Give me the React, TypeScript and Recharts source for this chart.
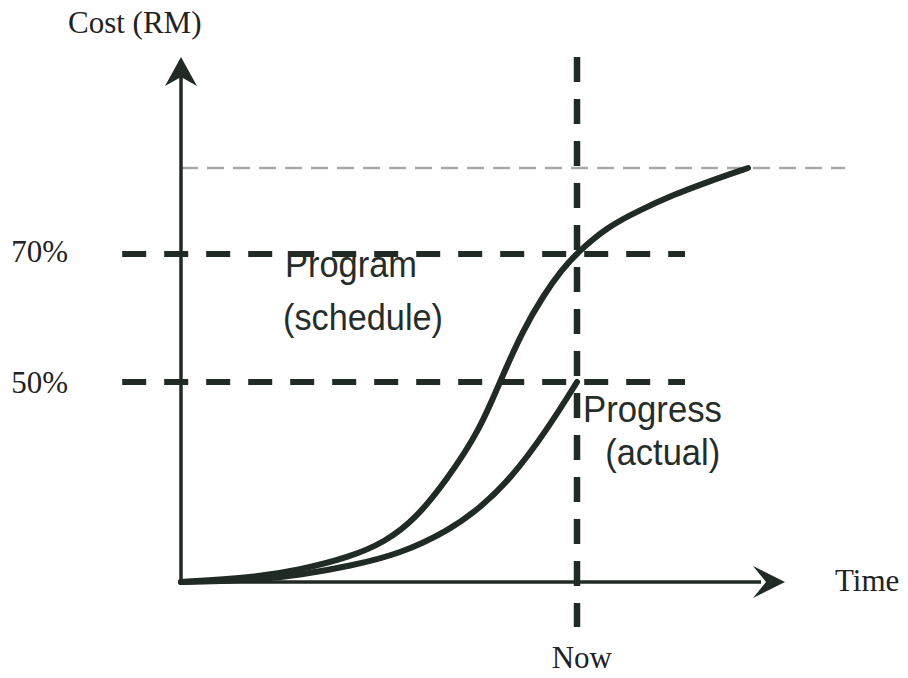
import React from 'react';
import { LineChart, Line, XAxis, YAxis, ReferenceLine, ReferenceDot } from 'recharts';

// S-curves (time units, cost units)
const programTime = [0, 11.5, 19.8, 28.2, 34, 39, 44.3, 49.8, 53.2, 57, 60.5, 63.5, 66, 71, 76.5, 82, 87.7, 94.5];
const programCost = [0, 0.8, 2.4, 5, 8, 12.5, 20.4, 30.4, 40.2, 50.4, 57.5, 62.5, 65.8, 71, 74.4, 77.4, 80, 82.8];
const progressTime = [0, 13.2, 19.8, 28.2, 36.5, 44.8, 49.8, 54.8, 61, 66];
const progressCost = [0, 0.4, 1.4, 3.2, 5.6, 10.4, 14.8, 20.4, 30.4, 40];

// reference levels
const yTickValues = [65.6, 40];
const yTickLabels = ['70%', '50%'];
const budgetLevel = 82.8;
const nowTime = 66;
const xTickLabel = 'Now';
const levelLineStart = -9.8;
const levelLineEnd = 84;
const budgetLineEnd = 110.7;
const yAxisTop = 105;
const xAxisEnd = 100.67;

const INK = '#1f2b24';
const SERIF = '"Liberation Serif", "Times New Roman", serif';
const SANS = '"Liberation Sans", Arial, sans-serif';

const programData = programTime.map((t, i) => ({ t, v: programCost[i] }));
const progressData = progressTime.map((t, i) => ({ t, v: progressCost[i] }));

type Ann = { text: string; t: number; v: number; font: string; size: number; anchor: string; len?: number };
const annotations: Ann[] = [
  { text: 'Cost (RM)', t: -18.83, v: 109.8, font: SERIF, size: 31, anchor: 'start' },
  { text: 'Program', t: 17.33, v: 61, font: SANS, size: 37, anchor: 'start', len: 132 },
  { text: '(schedule)', t: 17, v: 50.4, font: SANS, size: 37, anchor: 'start', len: 160 },
  { text: 'Progress', t: 67, v: 32, font: SANS, size: 37, anchor: 'start', len: 139 },
  { text: '(actual)', t: 70.7, v: 23.4, font: SANS, size: 37, anchor: 'start', len: 115 },
  { text: 'Time', t: 109, v: -1.8, font: SERIF, size: 31, anchor: 'start' },
  { text: xTickLabel, t: nowTime + 0.8, v: -17.2, font: SERIF, size: 31, anchor: 'middle' },
  { text: yTickLabels[0], t: -18.83, v: yTickValues[0] - 1.6, font: SERIF, size: 31, anchor: 'end' },
  { text: yTickLabels[1], t: -18.83, v: yTickValues[1] - 2.2, font: SERIF, size: 31, anchor: 'end' },
];

const TextShape = (a: Ann) => (p: any) => (
  <text
    x={p.cx}
    y={p.cy}
    fill={a.font === SANS ? '#262d28' : '#222'}
    fontFamily={a.font}
    fontSize={a.size}
    textAnchor={a.anchor as any}
    {...(a.len ? { textLength: a.len, lengthAdjust: 'spacingAndGlyphs' } : {})}
  >
    {a.text}
  </text>
);

const UpArrow = (p: any) => (
  <path
    d={`M${p.cx},${p.cy} L${p.cx + 16},${p.cy + 29} L${p.cx},${p.cy + 20} L${p.cx - 16},${p.cy + 29} Z`}
    fill={INK}
  />
);
const RightArrow = (p: any) => (
  <path
    d={`M${p.cx},${p.cy} L${p.cx - 32},${p.cy - 16} L${p.cx - 19},${p.cy} L${p.cx - 32},${p.cy + 16} Z`}
    fill={INK}
  />
);

export default function App() {
  return (
    <div style={{ position: 'absolute', left: 0, top: 0, background: '#fff' }}>
      <LineChart width={908} height={678} margin={{ top: 42, right: 61, bottom: 36, left: 121 }}>
        <XAxis dataKey="t" type="number" domain={[-10, 111]} allowDataOverflow hide />
        <YAxis dataKey="v" type="number" domain={[-12, 108]} allowDataOverflow hide />

        {/* budget line */}
        <ReferenceLine
          segment={[{ x: 0, y: budgetLevel }, { x: budgetLineEnd, y: budgetLevel }]}
          stroke="#a8aaa8"
          strokeWidth={2.5}
          strokeDasharray="17 9"
          ifOverflow="visible"
        />
        {/* level lines */}
        {yTickValues.map((v) => (
          <ReferenceLine
            key={v}
            segment={[{ x: levelLineStart, y: v }, { x: levelLineEnd, y: v }]}
            stroke={INK}
            strokeWidth={6}
            strokeDasharray="24 18"
            ifOverflow="visible"
          />
        ))}
        {/* now line */}
        <ReferenceLine
          segment={[{ x: nowTime, y: yAxisTop }, { x: nowTime, y: -9 }]}
          stroke={INK}
          strokeWidth={6.5}
          strokeDasharray="25 17"
          ifOverflow="visible"
        />
        {/* axes */}
        <ReferenceLine
          segment={[{ x: 0, y: 0 }, { x: 0, y: yAxisTop - 4 }]}
          stroke={INK}
          strokeWidth={3.5}
          ifOverflow="visible"
        />
        <ReferenceLine
          segment={[{ x: 0, y: 0 }, { x: xAxisEnd - 4, y: 0 }]}
          stroke={INK}
          strokeWidth={3.5}
          ifOverflow="visible"
        />
        <ReferenceDot x={0} y={yAxisTop} r={0} shape={UpArrow} ifOverflow="visible" />
        <ReferenceDot x={xAxisEnd} y={0} r={0} shape={RightArrow} ifOverflow="visible" />

        <Line
          data={programData}
          dataKey="v"
          type="basis"
          stroke={INK}
          strokeWidth={6}
          strokeLinecap="round"
          dot={false}
          activeDot={false}
          isAnimationActive={false}
        />
        <Line
          data={progressData}
          dataKey="v"
          type="basis"
          stroke={INK}
          strokeWidth={6}
          strokeLinecap="round"
          dot={false}
          activeDot={false}
          isAnimationActive={false}
        />

        {annotations.map((a) => (
          <ReferenceDot key={a.text} x={a.t} y={a.v} r={0} shape={TextShape(a)} ifOverflow="visible" />
        ))}
      </LineChart>
    </div>
  );
}
